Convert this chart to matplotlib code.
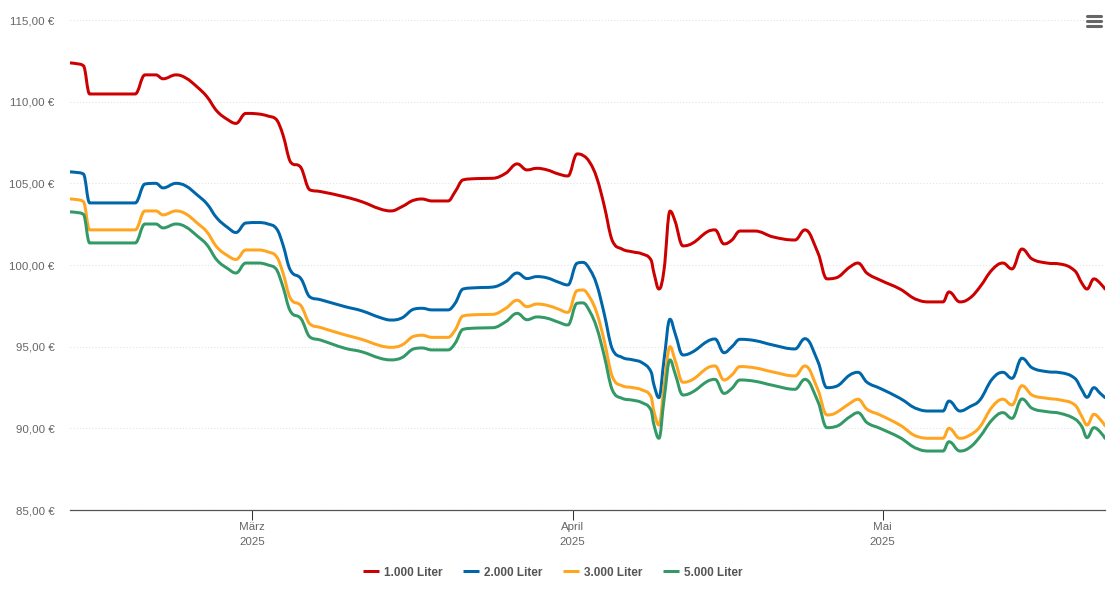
import matplotlib

matplotlib.use("Agg")
import matplotlib.pyplot as plt
import pandas as pd
from matplotlib.lines import Line2D
from matplotlib.patches import PathPatch
from matplotlib.path import Path

plt.rcParams["font.family"] = ["Liberation Sans", "DejaVu Sans"]

# day offset from 1 March 2025, then price per 100 l for each order size
rows = [
    (-17.6, 112.37, 105.70, 104.04, 103.25),
    (-17.0, 112.33, 105.67, 104.01, 103.22),
    (-16.3, 112.20, 105.57, 103.88, 103.10),
    (-15.7, 110.47, 103.80, 102.15, 101.35),
    (-11.3, 110.47, 103.80, 102.15, 101.35),
    (-10.35, 111.64, 104.96, 103.31, 102.51),
    (-9.3, 111.64, 105.00, 103.31, 102.51),
    (-8.6, 111.40, 104.72, 103.07, 102.27),
    (-7.35, 111.64, 105.00, 103.31, 102.51),
    (-6.4, 111.45, 104.84, 103.13, 102.33),
    (-5.3, 110.90, 104.29, 102.57, 101.78),
    (-4.35, 110.30, 103.74, 102.02, 101.23),
    (-3.4, 109.43, 102.88, 101.10, 100.31),
    (-2.3, 108.88, 102.27, 100.55, 99.76),
    (-1.55, 108.67, 101.99, 100.34, 99.51),
    (-0.6, 109.28, 102.57, 100.92, 100.12),
    (0.6, 109.25, 102.60, 100.92, 100.12),
    (1.55, 109.12, 102.51, 100.80, 100.00),
    (2.4, 108.88, 102.20, 100.49, 99.70),
    (3.0, 107.96, 101.23, 99.51, 98.66),
    (3.7, 106.33, 99.70, 97.98, 97.19),
    (4.75, 105.95, 99.15, 97.49, 96.70),
    (5.6, 104.60, 98.04, 96.39, 95.59),
    (6.6, 104.50, 97.88, 96.18, 95.41),
    (9.0, 104.17, 97.45, 95.72, 94.90),
    (10.6, 103.88, 97.20, 95.45, 94.69),
    (12.4, 103.43, 96.78, 95.06, 94.29),
    (13.45, 103.31, 96.63, 94.96, 94.19),
    (14.5, 103.57, 96.76, 95.10, 94.33),
    (15.75, 103.98, 97.31, 95.65, 94.88),
    (16.45, 104.04, 97.35, 95.70, 94.92),
    (17.4, 103.92, 97.25, 95.57, 94.80),
    (18.95, 103.92, 97.25, 95.57, 94.80),
    (19.65, 104.49, 97.66, 96.02, 95.21),
    (20.4, 105.21, 98.53, 96.88, 96.06),
    (21.75, 105.29, 98.61, 96.96, 96.14),
    (23.3, 105.31, 98.65, 96.98, 96.16),
    (24.55, 105.62, 98.98, 97.35, 96.53),
    (25.65, 106.19, 99.51, 97.84, 97.04),
    (26.6, 105.82, 99.17, 97.45, 96.65),
    (27.55, 105.92, 99.29, 97.61, 96.82),
    (28.55, 105.82, 99.21, 97.53, 96.74),
    (29.6, 105.58, 98.96, 97.31, 96.51),
    (30.55, 105.45, 98.78, 97.10, 96.33),
    (31.45, 106.80, 100.11, 98.43, 97.66),
    (32.0, 106.71, 100.16, 98.47, 97.68),
    (32.7, 106.25, 99.70, 97.98, 97.12),
    (33.35, 105.33, 98.78, 97.06, 96.15),
    (34.05, 103.68, 97.06, 95.41, 94.49),
    (34.82, 101.53, 94.90, 93.21, 92.39),
    (35.78, 100.98, 94.35, 92.61, 91.84),
    (36.85, 100.80, 94.19, 92.49, 91.72),
    (37.72, 100.68, 94.02, 92.35, 91.57),
    (38.59, 100.31, 93.47, 91.94, 91.12),
    (38.88, 99.50, 92.65, 91.02, 90.20),
    (39.36, 98.53, 91.88, 90.20, 89.39),
    (39.85, 99.70, 94.19, 92.55, 91.74),
    (40.43, 103.30, 96.68, 95.00, 94.19),
    (40.91, 102.70, 95.84, 94.19, 93.37),
    (41.68, 101.17, 94.49, 92.82, 92.04),
    (42.65, 101.35, 94.69, 93.00, 92.24),
    (44.0, 102.02, 95.31, 93.68, 92.86),
    (44.78, 102.15, 95.47, 93.82, 93.00),
    (45.65, 101.29, 94.63, 92.96, 92.14),
    (46.42, 101.53, 95.00, 93.27, 92.45),
    (47.2, 102.08, 95.45, 93.78, 92.96),
    (48.65, 102.08, 95.37, 93.70, 92.88),
    (50.39, 101.72, 95.10, 93.45, 92.63),
    (52.51, 101.53, 94.86, 93.21, 92.39),
    (53.48, 102.15, 95.49, 93.82, 93.00),
    (54.74, 100.74, 94.08, 92.35, 91.63),
    (55.61, 99.15, 92.49, 90.82, 90.04),
    (56.38, 99.20, 92.55, 90.92, 90.10),
    (57.83, 99.88, 93.27, 91.53, 90.71),
    (58.61, 100.12, 93.43, 91.78, 90.96),
    (59.48, 99.50, 92.82, 91.17, 90.35),
    (60.74, 99.08, 92.45, 90.82, 90.00),
    (62.67, 98.53, 91.84, 90.20, 89.43),
    (64.41, 97.86, 91.18, 89.49, 88.74),
    (65.57, 97.74, 91.06, 89.39, 88.61),
    (66.83, 97.74, 91.06, 89.39, 88.61),
    (67.41, 98.35, 91.67, 90.00, 89.18),
    (68.47, 97.74, 91.06, 89.39, 88.61),
    (69.44, 97.98, 91.33, 89.59, 88.84),
    (70.41, 98.66, 91.74, 90.10, 89.49),
    (71.57, 99.70, 93.00, 91.30, 90.51),
    (72.63, 100.12, 93.43, 91.78, 90.96),
    (73.5, 99.76, 93.06, 91.43, 90.61),
    (74.47, 100.98, 94.29, 92.61, 91.80),
    (75.44, 100.37, 93.71, 92.04, 91.23),
    (76.89, 100.12, 93.47, 91.84, 91.02),
    (78.14, 100.06, 93.41, 91.74, 90.92),
    (79.59, 99.64, 93.06, 91.43, 90.57),
    (80.27, 98.88, 92.35, 90.71, 90.10),
    (80.76, 98.53, 91.90, 90.20, 89.43),
    (81.43, 99.15, 92.49, 90.86, 90.04),
    (82.01, 98.90, 92.16, 90.57, 89.80),
    (82.5, 98.53, 91.88, 90.16, 89.39),
]
df = pd.DataFrame(rows, columns=["day", "1.000 Liter", "2.000 Liter", "3.000 Liter", "5.000 Liter"])

colors = {
    "1.000 Liter": "#cc0000",
    "2.000 Liter": "#0066aa",
    "3.000 Liter": "#ffa51f",
    "5.000 Liter": "#339966",
}


def spline_path(xs, ys, smoothing=1.5):
    # same control points a Highcharts spline uses
    n = len(xs)
    verts = [(xs[0], ys[0])]
    codes = [Path.MOVETO]
    right = (xs[0], ys[0])
    for i in range(1, n):
        x, y = xs[i], ys[i]
        left = (x, y)
        next_right = (x, y)
        if i < n - 1:
            lx = (smoothing * x + xs[i - 1]) / (smoothing + 1)
            ly = (smoothing * y + ys[i - 1]) / (smoothing + 1)
            rx = (smoothing * x + xs[i + 1]) / (smoothing + 1)
            ry = (smoothing * y + ys[i + 1]) / (smoothing + 1)
            corr = (ry - ly) * (rx - x) / (rx - lx) + y - ry
            ly += corr
            ry += corr
            # no overshoot past the neighbouring points
            if (ly > ys[i - 1] and ly > y) or (ly < ys[i - 1] and ly < y):
                ly = max(ys[i - 1], y) if ly > y else min(ys[i - 1], y)
                ry = 2 * y - ly
            if (ry > ys[i + 1] and ry > y) or (ry < ys[i + 1] and ry < y):
                ry = max(ys[i + 1], y) if ry > y else min(ys[i + 1], y)
                ly = 2 * y - ry
            left = (lx, ly)
            next_right = (rx, ry)
        verts += [right, left, (x, y)]
        codes += [Path.CURVE4, Path.CURVE4, Path.CURVE4]
        right = next_right
    return Path(verts, codes)


fig = plt.figure(figsize=(11.15, 6.08), dpi=100)
ax = fig.add_axes([70 / 1115, 1 - 510 / 608, 1035 / 1115, 490 / 608])

handles = []
for name, color in colors.items():
    path = spline_path(df["day"].tolist(), df[name].tolist())
    ax.add_patch(PathPatch(path, fill=False, edgecolor=color, linewidth=2.16,
                           capstyle="round", joinstyle="round", zorder=3))
    handles.append(Line2D([], [], color=color, linewidth=2.16, solid_capstyle="butt", label=name))

ax.set_xlim(-17.6, 82.5)
ax.set_ylim(85, 115)

yticks = [85, 90, 95, 100, 105, 110, 115]
ax.set_yticks(yticks)
ax.set_yticklabels([f"{v:.2f} €".replace(".", ",") for v in yticks])
ax.set_xticks([0, 31, 61])
ax.set_xticklabels(["März\n2025", "April\n2025", "Mai\n2025"], linespacing=1.64)

ax.grid(axis="y", color="#e2e2e2", linewidth=0.75, linestyle=(0, (1, 2)))
ax.set_axisbelow(True)
for side in ["top", "right", "left"]:
    ax.spines[side].set_visible(False)
ax.spines["bottom"].set_color("#555555")
ax.spines["bottom"].set_linewidth(0.9)
ax.tick_params(axis="y", length=0, pad=11, labelsize=8.25, labelcolor="#666666")
ax.tick_params(axis="x", length=7.2, width=0.75, color="#333333", pad=1.5,
               labelsize=8.25, labelcolor="#666666")

fig.legend(handles=handles, loc="center", bbox_to_anchor=(553 / 1115, 1 - 572.5 / 608),
           ncol=4, frameon=False, handlelength=1.35, handletextpad=0.42, columnspacing=1.75,
           prop={"size": 8.5, "weight": "bold"}, labelcolor="#555555")

# export menu icon, top right
for ypx in [16, 21.3, 26.3]:
    fig.add_artist(Line2D([1086.5 / 1115, 1100.5 / 1115], [1 - ypx / 608, 1 - ypx / 608],
                          transform=fig.transFigure, color="#666666", linewidth=2.2,
                          solid_capstyle="round"))

fig.savefig("out.png", dpi=100)
